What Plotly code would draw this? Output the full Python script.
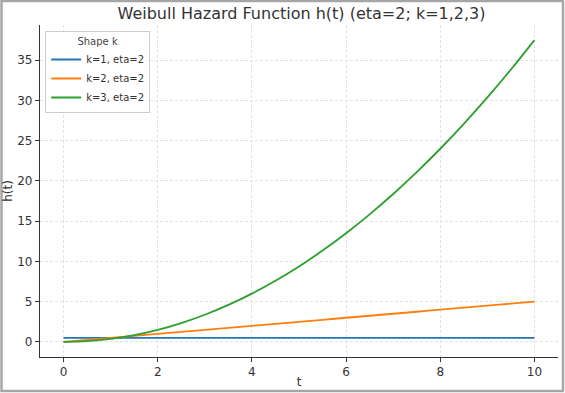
import plotly.graph_objects as go

t_values = [0, 0.5, 1, 1.5, 2, 2.5, 3, 3.5, 4, 4.5, 5, 5.5, 6, 6.5, 7, 7.5, 8, 8.5, 9, 9.5, 10]
h_k1 = [0.5] * 21
h_k2 = [0, 0.25, 0.5, 0.75, 1.0, 1.25, 1.5, 1.75, 2.0, 2.25, 2.5, 2.75, 3.0, 3.25, 3.5, 3.75, 4.0, 4.25, 4.5, 4.75, 5.0]
h_k3 = [0, 0.094, 0.375, 0.844, 1.5, 2.344, 3.375, 4.594, 6.0, 7.594, 9.375, 11.344, 13.5,
        15.844, 18.375, 21.094, 24.0, 27.094, 30.375, 33.844, 37.5]
series_names = ["k=1, eta=2", "k=2, eta=2", "k=3, eta=2"]
series_colors = ["#1f77b4", "#ff7f0e", "#2ca02c"]
x_ticks = [0, 2, 4, 6, 8, 10]
y_ticks = [0, 5, 10, 15, 20, 25, 30, 35]

W, H = 565, 393
ml, mr, mt, mb = 40, 7, 25, 36

fig = go.Figure()
for name, ys, col in zip(series_names, [h_k1, h_k2, h_k3], series_colors):
    fig.add_trace(go.Scatter(x=t_values, y=ys, mode="lines", name=name,
                             line=dict(color=col, width=1.8, shape="spline")))

axis_common = dict(showline=True, linecolor="#333333", linewidth=1.2, ticks="outside",
                   ticklen=4, tickcolor="#333333", tickfont=dict(size=12, color="#333333"),
                   showgrid=True, gridcolor="#e2e2e2", griddash="3px,2px", gridwidth=0.8,
                   zeroline=False, mirror=False, automargin=False)

fig.update_layout(
    width=W, height=H,
    margin=dict(l=ml, r=mr, t=mt, b=mb),
    paper_bgcolor="white", plot_bgcolor="white",
    font=dict(family="DejaVu Sans", color="#333333"),
    title=dict(text="Weibull Hazard Function h(t) (eta=2; k=1,2,3)", x=301.5 / W, xanchor="center",
               xref="container", y=1 - 13 / H, yanchor="middle", font=dict(size=16, color="#333333")),
    xaxis=dict(range=[-0.5, 10.5], tickvals=x_ticks, title=dict(text="t", font=dict(size=12), standoff=0),
               ticklabelstandoff=-1, **axis_common),
    yaxis=dict(range=[-1.875, 39.375], tickvals=y_ticks, title=dict(text="h(t)", font=dict(size=12), standoff=2),
               **axis_common),
    legend=dict(x=0.01, y=0.982, xanchor="left", yanchor="top", bgcolor="rgba(255,255,255,0.85)",
                bordercolor="#cccccc", borderwidth=1, font=dict(size=10, color="#333333"),
                title=dict(text="Shape k", side="top center", font=dict(size=10, color="#444444")),
                tracegroupgap=0, itemwidth=30),
    showlegend=True,
)

pw, ph = W - ml - mr, H - mt - mb
fig.add_shape(type="rect", xref="paper", yref="paper",
              x0=(-ml + 1.5) / pw, x1=(W - ml - 2) / pw,
              y0=-(mb - 2) / ph, y1=(H - mb - 1) / ph,
              line=dict(color="#a6a6a6", width=2.5), fillcolor="rgba(0,0,0,0)", layer="above")

fig.write_html("out.html", config={"displayModeBar": False},
               post_script="document.body.style.margin='0';document.body.style.padding='0';")
